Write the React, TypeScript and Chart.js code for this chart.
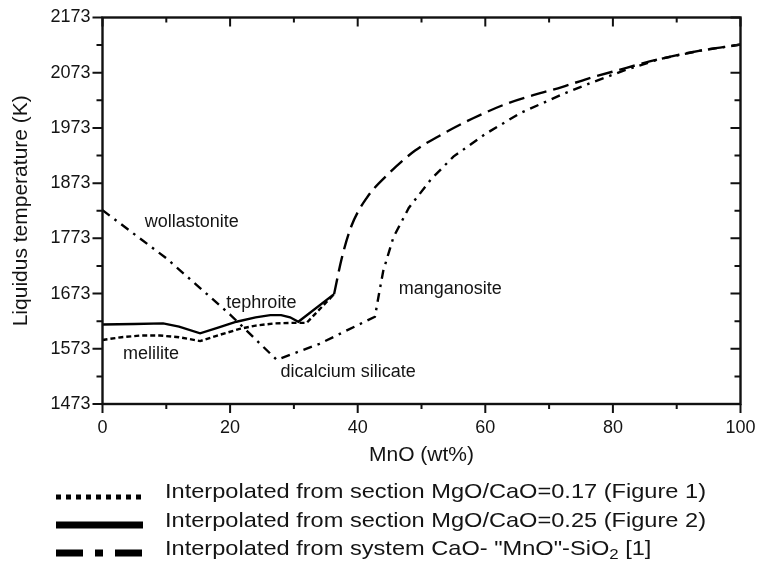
import React, { useEffect, useRef } from 'react';
import { Chart, registerables } from 'chart.js';

Chart.register(...registerables);

// ---- tick labels ----
const X_TICKS = [0, 20, 40, 60, 80, 100];
const Y_TICKS = [1473, 1573, 1673, 1773, 1873, 1973, 2073, 2173];

// ---- series: section MgO/CaO = 0.17 (dotted) ----
const MGO017_X = [0, 3, 6, 9, 12, 15.3, 18, 21.5, 24, 27, 30, 32, 36.3];
const MGO017_Y = [1589, 1594, 1597, 1597, 1594, 1587, 1597, 1609, 1615, 1619, 1620, 1620, 1672];

// ---- series: section MgO/CaO = 0.25 (solid) ----
const MGO025_X = [0, 5, 9.5, 12, 15.3, 18, 21, 24, 26.3, 28, 29.4, 30.7, 36.3];
const MGO025_Y = [1617, 1618, 1619, 1613, 1601, 1611, 1622, 1630, 1634, 1634, 1630, 1622, 1672];

// ---- manganosite liquidus common to both sections (long dash) ----
const MN_SECTION_X = [36.3, 37.5, 39, 41.4, 45, 49, 53, 58, 63.6, 68.6, 72, 76, 80.6, 87.4, 93.7, 100];
const MN_SECTION_Y = [1672, 1737, 1795, 1846, 1892, 1932, 1960, 1990, 2018, 2036, 2047, 2062, 2077, 2098, 2113, 2124];

// ---- system CaO-"MnO"-SiO2 (dash-dot) ----
const SYSTEM_X = [0, 10, 20, 27.3, 34, 42.7, 43.3, 44, 45.6, 48, 51.5, 55, 60, 65.5, 72.5, 76.4, 82, 87.4, 93.7, 100];
const SYSTEM_Y = [1824, 1737, 1635, 1553, 1582, 1631, 1670, 1714, 1775, 1828, 1880, 1921, 1962, 2000, 2036, 2054, 2078, 2098, 2113, 2124];

// ---- phase field labels ----
const PHASE_LABELS = ['wollastonite', 'tephroite', 'melilite', 'dicalcium silicate', 'manganosite'];
const PHASE_X = [14.0, 24.9, 7.6, 38.5, 54.5];
const PHASE_Y = [1803, 1655, 1564, 1530, 1682];

// ---- legend ----
const LEGEND_TEXT = [
  'Interpolated from section MgO/CaO=0.17 (Figure 1)',
  'Interpolated from section MgO/CaO=0.25 (Figure 2)',
  'Interpolated from system CaO- "MnO"-SiO',
];
const LEGEND_SUB = ['', '', '2'];
const LEGEND_TAIL = ['', '', ' [1]'];

const TEXT_COLOR = '#141414';
const FONT = '"Liberation Sans", Arial, Helvetica, sans-serif';

const toPoints = (xs: number[], ys: number[]) => xs.map((x, i) => ({ x, y: ys[i] }));

const framePlugin = {
  id: 'frameTicks',
  afterDraw(chart: any) {
    const { ctx, chartArea: a, scales } = chart;
    const x = scales.x;
    const y = scales.y;
    ctx.save();
    ctx.strokeStyle = '#111';
    ctx.lineWidth = 2.4;
    ctx.strokeRect(a.left, a.top, a.right - a.left, a.bottom - a.top);
    ctx.lineWidth = 2;
    ctx.beginPath();
    X_TICKS.forEach((v, i) => {
      const px = x.getPixelForValue(v);
      ctx.moveTo(px, a.bottom);
      ctx.lineTo(px, a.bottom + 9);
      ctx.moveTo(px, a.top);
      ctx.lineTo(px, a.top + 9);
      if (i < X_TICKS.length - 1) {
        const m = x.getPixelForValue((v + X_TICKS[i + 1]) / 2);
        ctx.moveTo(m, a.bottom);
        ctx.lineTo(m, a.bottom + 5);
        ctx.moveTo(m, a.top);
        ctx.lineTo(m, a.top + 5);
      }
    });
    Y_TICKS.forEach((v, i) => {
      const py = y.getPixelForValue(v);
      ctx.moveTo(a.left, py);
      ctx.lineTo(a.left - 10, py);
      ctx.moveTo(a.right, py);
      ctx.lineTo(a.right - 10, py);
      if (i < Y_TICKS.length - 1) {
        const m = y.getPixelForValue((v + Y_TICKS[i + 1]) / 2);
        ctx.moveTo(a.left, m);
        ctx.lineTo(a.left - 6, m);
        ctx.moveTo(a.right, m);
        ctx.lineTo(a.right - 6, m);
      }
    });
    ctx.stroke();
    ctx.restore();
  },
};

const phaseLabelPlugin = {
  id: 'phaseLabels',
  afterDatasetsDraw(chart: any) {
    const { ctx, scales } = chart;
    ctx.save();
    ctx.fillStyle = TEXT_COLOR;
    ctx.font = `18px ${FONT}`;
    ctx.textAlign = 'center';
    ctx.textBaseline = 'middle';
    PHASE_LABELS.forEach((t, i) => {
      ctx.fillText(t, scales.x.getPixelForValue(PHASE_X[i]), scales.y.getPixelForValue(PHASE_Y[i]));
    });
    ctx.restore();
  },
};

const legendPlugin = {
  id: 'customLegend',
  afterDraw(chart: any) {
    const { ctx } = chart;
    const rowY = [492, 521, 549];
    const lineX0 = 56;
    const lineX1 = 143;
    const textX = 165;
    ctx.save();
    ctx.strokeStyle = '#000';
    ctx.lineCap = 'butt';
    // dotted
    ctx.lineWidth = 5;
    ctx.setLineDash([5, 5]);
    ctx.beginPath();
    ctx.moveTo(lineX0, rowY[0] + 5);
    ctx.lineTo(lineX1, rowY[0] + 5);
    ctx.stroke();
    // solid
    ctx.lineWidth = 7;
    ctx.setLineDash([]);
    ctx.beginPath();
    ctx.moveTo(lineX0, rowY[1] + 4);
    ctx.lineTo(lineX1, rowY[1] + 4);
    ctx.stroke();
    // dash-dot
    ctx.lineWidth = 7;
    ctx.setLineDash([27, 12, 8, 12, 27, 20]);
    ctx.beginPath();
    ctx.moveTo(lineX0, rowY[2] + 4);
    ctx.lineTo(lineX1, rowY[2] + 4);
    ctx.stroke();
    ctx.setLineDash([]);

    ctx.fillStyle = TEXT_COLOR;
    ctx.textBaseline = 'middle';
    ctx.textAlign = 'left';
    ctx.font = `21px ${FONT}`;
    const targetW = 541;
    const sx = targetW / ctx.measureText(LEGEND_TEXT[0]).width;
    LEGEND_TEXT.forEach((t, i) => {
      ctx.save();
      ctx.translate(textX, rowY[i]);
      ctx.scale(sx, 1);
      ctx.font = `21px ${FONT}`;
      ctx.fillText(t, 0, 0);
      let cx = ctx.measureText(t).width;
      if (LEGEND_SUB[i]) {
        ctx.font = `15px ${FONT}`;
        ctx.fillText(LEGEND_SUB[i], cx, 6);
        cx += ctx.measureText(LEGEND_SUB[i]).width;
        ctx.font = `21px ${FONT}`;
      }
      if (LEGEND_TAIL[i]) {
        ctx.fillText(LEGEND_TAIL[i], cx, 0);
      }
      ctx.restore();
    });
    ctx.restore();
  },
};

export default function App() {
  const canvasRef = useRef<HTMLCanvasElement | null>(null);

  useEffect(() => {
    document.body.style.margin = '0';
    const canvas = canvasRef.current;
    if (!canvas) return;
    const chart = new Chart(canvas, {
      type: 'line',
      data: {
        datasets: [
          {
            label: 'MgO/CaO=0.17',
            data: toPoints(MGO017_X, MGO017_Y),
            borderColor: '#000',
            borderWidth: 2.4,
            borderDash: [5, 3],
            pointRadius: 0,
            tension: 0,
          },
          {
            label: 'MgO/CaO=0.25',
            data: toPoints(MGO025_X, MGO025_Y),
            borderColor: '#000',
            borderWidth: 2.4,
            pointRadius: 0,
            tension: 0,
          },
          {
            label: 'manganosite (sections)',
            data: toPoints(MN_SECTION_X, MN_SECTION_Y),
            borderColor: '#000',
            borderWidth: 2.4,
            borderDash: [16, 7],
            pointRadius: 0,
            cubicInterpolationMode: 'monotone',
          },
          {
            label: 'CaO-MnO-SiO2',
            data: toPoints(SYSTEM_X, SYSTEM_Y),
            borderColor: '#000',
            borderWidth: 2.4,
            borderDash: [9, 6, 2.5, 6],
            pointRadius: 0,
            tension: 0,
          },
        ],
      },
      options: {
        animation: false,
        responsive: true,
        maintainAspectRatio: false,
        layout: { padding: { top: 17.5, right: 19.5, left: 0, bottom: 96 } },
        plugins: {
          legend: { display: false },
          tooltip: { enabled: false },
        },
        scales: {
          x: {
            type: 'linear',
            min: 0,
            max: 100,
            afterBuildTicks: (s: any) => {
              s.ticks = X_TICKS.map((v) => ({ value: v }));
            },
            afterFit: (s: any) => {
              s.height = 65;
              s.paddingLeft = 0;
              s.paddingRight = 0;
            },
            grid: { display: false, drawTicks: false },
            border: { display: false },
            ticks: {
              padding: 13,
              color: TEXT_COLOR,
              font: { family: FONT, size: 18 },
              maxRotation: 0,
              autoSkip: false,
              callback: (v: any) => String(v),
            },
            title: {
              display: true,
              text: 'MnO (wt%)',
              color: TEXT_COLOR,
              font: { family: FONT, size: 21 },
              padding: { top: 0, bottom: 1 },
            },
          },
          y: {
            type: 'linear',
            min: 1473,
            max: 2173,
            afterBuildTicks: (s: any) => {
              s.ticks = Y_TICKS.map((v) => ({ value: v }));
            },
            afterFit: (s: any) => {
              s.width = 102.5;
              s.paddingTop = 0;
              s.paddingBottom = 0;
            },
            grid: { display: false, drawTicks: false },
            border: { display: false },
            ticks: {
              padding: 12,
              color: TEXT_COLOR,
              font: { family: FONT, size: 18 },
              autoSkip: false,
              callback: (v: any) => String(v),
            },
            title: {
              display: true,
              text: 'Liquidus temperature (K)',
              color: TEXT_COLOR,
              font: { family: FONT, size: 21 },
              padding: { top: 9, bottom: 0 },
            },
          },
        },
      },
      plugins: [framePlugin, phaseLabelPlugin, legendPlugin],
    });
    return () => chart.destroy();
  }, []);

  return (
    <div style={{ position: 'absolute', left: 0, top: 0, width: 760, height: 565, background: '#fff' }}>
      <canvas ref={canvasRef} />
    </div>
  );
}
